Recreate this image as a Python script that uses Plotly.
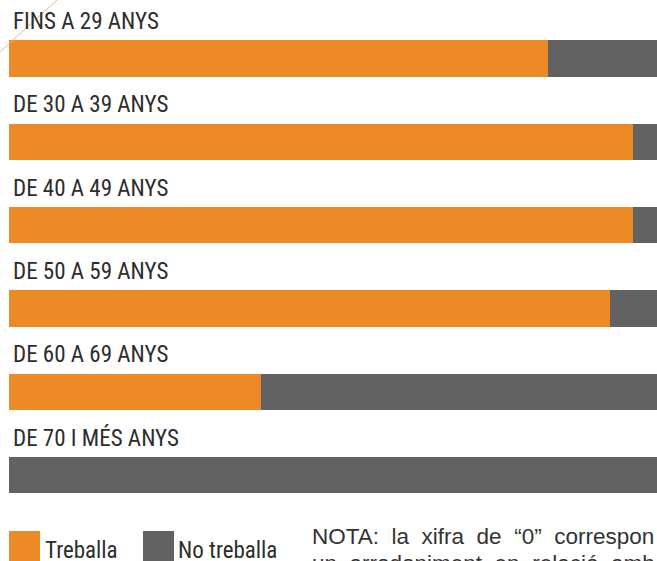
import plotly.graph_objects as go

categories = ["FINS A 29 ANYS", "DE 30 A 39 ANYS", "DE 40 A 49 ANYS",
              "DE 50 A 59 ANYS", "DE 60 A 69 ANYS", "DE 70 I MÉS ANYS"]
treballa = [83.2, 96.3, 96.3, 92.7, 38.9, 0.0]
no_treballa = [16.8, 3.7, 3.7, 7.3, 61.1, 100.0]
series_names = ["Treballa", "No treballa"]
note_lines = ["NOTA: la xifra de “0” correspon a",
              "un arrodoniment en relació amb la resta"]

ORANGE = "#EC8A28"
GRAY = "#626262"
TEXT = "#2d2d2d"
W, H = 657, 561
LABEL_FONT = "Roboto Condensed"

fig = go.Figure()
fig.add_trace(go.Bar(y=categories, x=treballa, orientation="h", name=series_names[0],
                     marker=dict(color=ORANGE, line=dict(width=0)), showlegend=False,
                     hoverinfo="x+name"))
fig.add_trace(go.Bar(y=categories, x=no_treballa, orientation="h", name=series_names[1],
                     marker=dict(color=GRAY, line=dict(width=0)), showlegend=False,
                     hoverinfo="x+name"))

for c in categories:
    fig.add_annotation(x=11 / W, xref="paper", y=c, yref="y", yshift=37,
                       text=c, showarrow=False, xanchor="left", yanchor="middle",
                       font=dict(family=LABEL_FONT, size=23, color=TEXT))

def px_x(v):
    return v / W
def px_y(v):
    return 1 - v / H

fig.add_shape(type="rect", xref="paper", yref="paper", x0=px_x(9), x1=px_x(40),
              y0=px_y(561), y1=px_y(531), fillcolor=ORANGE, line=dict(width=0))
fig.add_shape(type="rect", xref="paper", yref="paper", x0=px_x(143), x1=px_x(174),
              y0=px_y(561), y1=px_y(531), fillcolor=GRAY, line=dict(width=0))
fig.add_annotation(x=px_x(43), y=px_y(550), xref="paper", yref="paper", text=series_names[0],
                   showarrow=False, xanchor="left", yanchor="middle",
                   font=dict(family=LABEL_FONT, size=23, color=TEXT))
fig.add_annotation(x=px_x(176), y=px_y(550), xref="paper", yref="paper", text=series_names[1],
                   showarrow=False, xanchor="left", yanchor="middle",
                   font=dict(family=LABEL_FONT, size=23, color=TEXT))

gap = "\u00a0" * 2
for i, line in enumerate(note_lines):
    fig.add_annotation(x=px_x(310), y=px_y(522 + 27 * i), xref="paper", yref="paper",
                       text=line.replace(" ", gap), showarrow=False, xanchor="left",
                       yanchor="top", align="left",
                       font=dict(family="Liberation Sans", size=22.5, color="#333333"))

fig.add_shape(type="line", xref="paper", yref="paper", x0=px_x(0), y0=px_y(52),
              x1=px_x(57), y1=px_y(0), line=dict(color="#F4B27A", width=1))

fig.update_layout(
    width=W, height=H, barmode="stack", bargap=0.566,
    margin=dict(l=0, r=0, t=0, b=0),
    paper_bgcolor="white", plot_bgcolor="white",
    xaxis=dict(range=[0, 100], domain=[9 / W, 1], visible=False, fixedrange=True),
    yaxis=dict(autorange="reversed", domain=[(H - 528.1) / H, (H - 16.9) / H],
               visible=False, fixedrange=True),
)

fig.write_html("out.html", config={"displayModeBar": False},
               post_script="document.body.style.margin='0';document.body.style.overflow='hidden';")
